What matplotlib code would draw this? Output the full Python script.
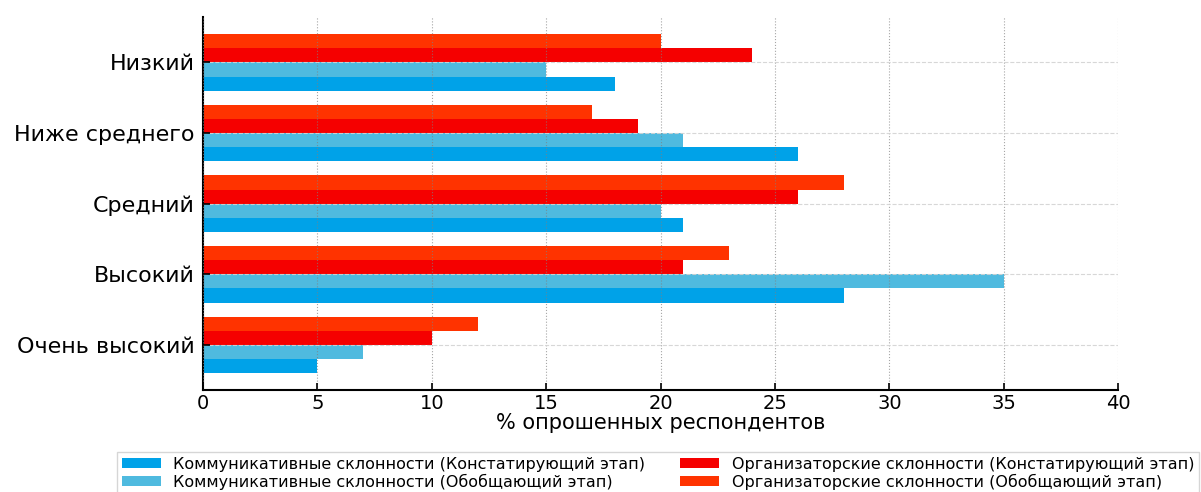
import matplotlib
matplotlib.use("Agg")
import matplotlib.pyplot as plt
import numpy as np

# уровни (сверху вниз как на графике)
levels = ["Низкий", "Ниже среднего", "Средний", "Высокий", "Очень высокий"]

comm_konst = [18, 26, 21, 28, 5]
comm_obob = [15, 21, 20, 35, 7]
org_konst = [24, 19, 26, 21, 10]
org_obob = [20, 17, 28, 23, 12]

series = [
    ("Коммуникативные склонности (Констатирующий этап)", comm_konst, "#00a2e8"),
    ("Коммуникативные склонности (Обобщающий этап)", comm_obob, "#4fbadf"),
    ("Организаторские склонности (Констатирующий этап)", org_konst, "#f50000"),
    ("Организаторские склонности (Обобщающий этап)", org_obob, "#ff3300"),
]

fig = plt.figure(figsize=(12.01, 4.92), dpi=100)
ax = fig.add_axes([0.169, 0.207, 0.762, 0.758])

y = np.arange(len(levels))[::-1]
h = 0.2
for i, (name, vals, col) in enumerate(series):
    ax.barh(y + (i - 1.5) * h, vals, height=h, color=col, label=name, zorder=1)

ax.set_yticks(y)
ax.set_yticklabels(levels, fontsize=16)
ax.set_xlim(0, 40)
ax.set_xticks(range(0, 41, 5))
ax.tick_params(axis="x", labelsize=14, direction="in", length=5, width=1.2, pad=3)
ax.tick_params(axis="y", direction="in", length=5, width=1.2, pad=6)
ax.set_xlabel("% опрошенных респондентов", fontsize=15, labelpad=0)

for s in ["top", "right"]:
    ax.spines[s].set_visible(False)
for s in ["left", "bottom"]:
    ax.spines[s].set_linewidth(1.5)

ax.grid(axis="x", linestyle=":", color="gray", alpha=0.7, zorder=3)
ax.grid(axis="y", linestyle="--", color="lightgray", alpha=0.9, zorder=3)
ax.set_axisbelow(False)

fig.legend(loc="upper center", bbox_to_anchor=(0.548, 0.081), ncol=2,
           prop={"family": "DejaVu Sans", "size": 11.5},
           frameon=True, fancybox=False, edgecolor="#cccccc",
           handlelength=2.4, handleheight=0.6, columnspacing=2.2,
           borderaxespad=0.0, labelspacing=0.1, borderpad=0.3)

fig.savefig("out.png", dpi=100)
